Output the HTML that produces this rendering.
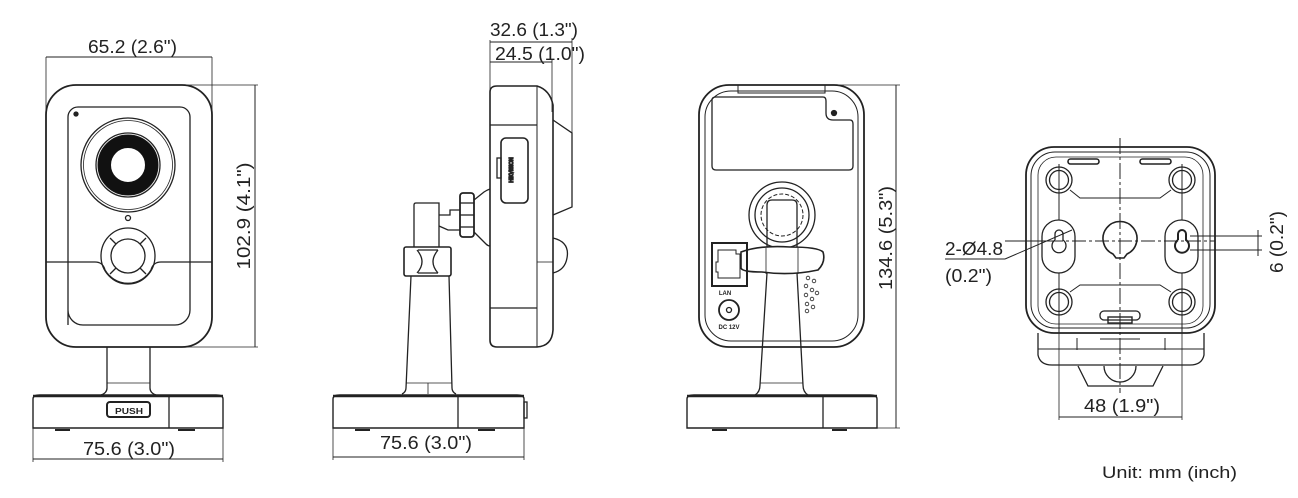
<!DOCTYPE html>
<html><head><meta charset="utf-8"><style>
html,body{margin:0;padding:0;background:#fff;}
svg{display:block}
text{font-family:"Liberation Sans Narrow","Liberation Sans",sans-serif;fill:#222;font-size:18px}
</style></head><body>
<svg width="1298" height="498" viewBox="0 0 1298 498" xmlns="http://www.w3.org/2000/svg">
<g fill="none" stroke="#222" stroke-width="1.3">
<!-- ===== FRONT VIEW ===== -->
<line x1="46" y1="57" x2="212" y2="57" stroke-width="1"/>
<line x1="46" y1="57" x2="46" y2="110" stroke-width="0.8"/>
<line x1="212" y1="57" x2="212" y2="110" stroke-width="0.8"/>
<rect x="46" y="85" width="166" height="262" rx="30" stroke-width="1.8"/>
<path d="M68 325 V117 a10 10 0 0 1 10 -10 H180 a10 10 0 0 1 10 10 V310 a15 15 0 0 1 -15 15 H83 a15 15 0 0 1 -15 -15z"/>
<circle cx="76" cy="114" r="2" fill="#222"/>
<circle cx="128" cy="165" r="47"/>
<circle cx="128" cy="165" r="44.5" stroke-width="0.8"/>
<circle cx="128" cy="165" r="32"/>
<circle cx="128" cy="165" r="30" stroke-width="1"/>
<circle cx="128" cy="165" r="23.5" stroke-width="13" stroke="#111"/>
<circle cx="128" cy="218" r="2.5"/>
<path d="M46 262 H95 Q103 262 105 270 A27 28 0 0 0 151 270 Q153 262 161 262 H212"/>
<ellipse cx="128" cy="256" rx="27" ry="28"/>
<circle cx="128" cy="256" r="17"/>
<line x1="110" y1="238" x2="116" y2="244"/><line x1="146" y1="238" x2="140" y2="244"/>
<line x1="110" y1="274" x2="116" y2="268"/><line x1="146" y1="274" x2="140" y2="268"/>
<line x1="183" y1="85" x2="258" y2="85" stroke-width="0.8"/>
<line x1="170" y1="347" x2="258" y2="347" stroke-width="0.8"/>
<line x1="255" y1="85" x2="255" y2="347" stroke-width="1"/>
<path d="M107 347 V388 Q107 393 101 395 M150 347 V388 Q150 393 156 395"/>
<line x1="107" y1="383" x2="150" y2="383" stroke-width="0.8"/>
<path d="M33 428 V399 Q33 395 40 395 H216 Q223 395 223 399 V428 Z" stroke-width="1.4"/>
<line x1="33" y1="396" x2="223" y2="396" stroke-width="2.5"/>
<line x1="169" y1="396" x2="169" y2="428"/>
<rect x="107" y="402" width="43" height="15" rx="3" stroke-width="2"/>
<line x1="55" y1="430" x2="70" y2="430" stroke-width="2"/><line x1="178" y1="430" x2="195" y2="430" stroke-width="2"/>
<line x1="33" y1="428" x2="33" y2="462" stroke-width="0.8"/><line x1="223" y1="428" x2="223" y2="462" stroke-width="0.8"/>
<line x1="33" y1="459" x2="223" y2="459" stroke-width="1"/>

<!-- ===== SIDE VIEW ===== -->
<line x1="490" y1="42" x2="572" y2="42" stroke-width="1"/>
<line x1="490" y1="62" x2="552" y2="62" stroke-width="1"/>
<line x1="490" y1="40" x2="490" y2="90" stroke-width="0.8"/>
<line x1="552" y1="60" x2="552" y2="112" stroke-width="0.8"/>
<line x1="572" y1="38" x2="572" y2="205" stroke-width="0.8"/>
<path d="M490 92 Q490 86 497 86 H537 Q550 90 553 105 V330 Q552 346 537 347 H497 Q490 347 490 340 Z" stroke-width="1.6"/>
<line x1="537" y1="86" x2="537" y2="347" stroke-width="1"/>
<line x1="490" y1="125" x2="537" y2="125"/>
<line x1="490" y1="308" x2="537" y2="308"/>
<path d="M553 120 L572 133 V207 L553 215"/>
<rect x="501" y="138" width="27" height="65" rx="5" stroke-width="1.6"/>
<rect x="497" y="158" width="4" height="20"/>
<text x="513" y="170" font-size="5" transform="rotate(-90 513 170)" text-anchor="middle" style="font-size:5px">HIKVISION</text>
<path d="M553 238 Q570 242 567 258 Q565 270 553 273" />
<line x1="553" y1="262" x2="537" y2="262" stroke-width="0.8"/>
<path d="M474 200 L484 192 Q487 190 490 189 M474 232 L486 244 Q488 246 490 246"/>
<rect x="460" y="193" width="14" height="44" rx="3" stroke-width="1.8"/>
<line x1="460" y1="203" x2="474" y2="203"/><line x1="460" y1="215" x2="474" y2="215"/><line x1="460" y1="227" x2="474" y2="227"/>
<path d="M439 215 H450 V210 H460 M439 226 L448 230 H460"/>
<path d="M414 247 V205 Q414 203 416 203 H439 V247"/>
<rect x="404" y="247" width="47" height="29" rx="2" stroke-width="1.6"/>
<path d="M417 250 Q427 262 417 273 M438 250 Q428 262 438 273 M418 250 H438 M418 273 H438"/>
<path d="M411 276 L406 388 Q406 392 402 394 M449 276 L452 388 Q452 392 456 394"/>
<line x1="406" y1="383" x2="452" y2="383" stroke-width="0.8"/>
<line x1="428" y1="383" x2="428" y2="394" stroke-width="0.8"/>
<path d="M333 428 V399 Q333 395 340 395 H517 Q524 395 524 399 V428 Z" stroke-width="1.4"/>
<line x1="333" y1="396" x2="524" y2="396" stroke-width="2.5"/>
<line x1="458" y1="396" x2="458" y2="428"/>
<rect x="524" y="402" width="3" height="16"/>
<line x1="355" y1="430" x2="370" y2="430" stroke-width="2"/><line x1="478" y1="430" x2="495" y2="430" stroke-width="2"/>
<line x1="333" y1="428" x2="333" y2="460" stroke-width="0.8"/><line x1="524" y1="428" x2="524" y2="460" stroke-width="0.8"/>
<line x1="333" y1="457" x2="524" y2="457" stroke-width="1"/>

<!-- ===== BACK VIEW ===== -->
<rect x="699" y="85" width="165" height="262" rx="30" stroke-width="1.8"/>
<rect x="705" y="91" width="153" height="250" rx="26" stroke-width="1"/>
<rect x="738" y="85" width="87" height="8" stroke-width="1"/>
<path d="M712 100 Q712 97 716 97 H823 Q826 97 826 101 V113 Q826 120 833 120 H850 Q853 120 853 124 V166 Q853 170 849 170 H716 Q712 170 712 166 Z"/>
<circle cx="834" cy="113" r="2.5" fill="#222"/>
<circle cx="782" cy="215" r="33"/>
<circle cx="782" cy="215" r="27"/>
<circle cx="782" cy="215" r="21" stroke-dasharray="4 2" stroke-width="1"/>
<path d="M767 205 Q767 200 772 200 H792 Q797 200 797 205 V247 M767 247 V205"/>
<path d="M767 273 L760 385 Q760 392 755 395 M797 273 L803 385 Q803 392 808 395"/>
<line x1="760" y1="383" x2="803" y2="383" stroke-width="0.8"/>
<path d="M741 252 Q760 245 790 247 Q818 247 823 252 Q826 262 818 270 Q790 276 762 272 Q742 272 741 268 Z" fill="#fff" stroke-width="1.6"/>
<line x1="766" y1="248" x2="766" y2="274" stroke-width="0.8"/><line x1="798" y1="248" x2="798" y2="274" stroke-width="0.8"/>
<rect x="712" y="243" width="35" height="43" stroke-width="2"/>
<path d="M718 250 H736 V254 H740 V278 H718 V272 H716 V262 H718 Z" stroke-width="1"/>
<circle cx="729" cy="310" r="10" stroke-width="1.8"/>
<circle cx="729" cy="310" r="2.5"/>
<g stroke-width="0.8">
<circle cx="808" cy="278" r="1.8"/><circle cx="814" cy="281" r="1.8"/><circle cx="806" cy="286" r="1.8"/><circle cx="812" cy="290" r="1.8"/><circle cx="817" cy="293" r="1.8"/><circle cx="806" cy="295" r="1.8"/><circle cx="812" cy="299" r="1.8"/><circle cx="807" cy="304" r="1.8"/><circle cx="813" cy="307" r="1.8"/><circle cx="807" cy="311" r="1.8"/>
</g>
<path d="M687 428 V399 Q687 395 694 395 H870 Q877 395 877 399 V428 Z" stroke-width="1.4"/>
<line x1="687" y1="396" x2="877" y2="396" stroke-width="2.5"/>
<line x1="823" y1="396" x2="823" y2="428"/>
<line x1="712" y1="430" x2="727" y2="430" stroke-width="2"/><line x1="832" y1="430" x2="847" y2="430" stroke-width="2"/>
<line x1="830" y1="85" x2="900" y2="85" stroke-width="0.8"/>
<line x1="877" y1="428" x2="900" y2="428" stroke-width="0.8"/>
<line x1="896" y1="85" x2="896" y2="428" stroke-width="1"/>

<!-- ===== BOTTOM VIEW ===== -->
<rect x="1026" y="147" width="189" height="186" rx="28" stroke-width="1.8"/>
<rect x="1031" y="152" width="179" height="176" rx="24" stroke-width="1"/>
<rect x="1038" y="157" width="165" height="167" rx="18" stroke-width="0.8"/>
<rect x="1068" y="159" width="31" height="5" rx="2.5" stroke-width="1.6"/>
<rect x="1140" y="159" width="31" height="5" rx="2.5" stroke-width="1.6"/>
<g stroke-width="1">
<path d="M1070 190 L1080 198 H1160 L1171 190"/>
<path d="M1070 292 L1080 285 H1160 L1171 292"/>
<line x1="1059" y1="164" x2="1059" y2="333"/><line x1="1182" y1="164" x2="1182" y2="333"/>
</g>
<g>
<circle cx="1059" cy="180" r="13"/><circle cx="1059" cy="180" r="9.5"/>
<circle cx="1182" cy="180" r="13"/><circle cx="1182" cy="180" r="9.5"/>
<circle cx="1059" cy="302" r="13"/><circle cx="1059" cy="302" r="9.5"/>
<circle cx="1182" cy="302" r="13"/><circle cx="1182" cy="302" r="9.5"/>
<rect x="1042" y="220" width="33" height="53" rx="16.5" fill="#fff"/>
<rect x="1165" y="220" width="33" height="53" rx="16.5" fill="#fff"/>
<path d="M1055 240 V234 a4 4 0 0 1 8 0 V240 a7 7 0 1 1 -8 0"/>
<path d="M1178 240 V234 a4 4 0 0 1 8 0 V240 a7 7 0 1 1 -8 0" stroke-width="2"/>
<path d="M1113 254 A17 17 0 1 1 1127 254 L1124 258 H1116 Z" fill="#fff" stroke-width="1.6"/>
</g>
<line x1="1026" y1="241" x2="1215" y2="241" stroke-width="1" stroke-dasharray="14 3 3 3"/>
<line x1="1120" y1="138" x2="1120" y2="393" stroke-width="1" stroke-dasharray="16 3 3 3"/>
<rect x="1100" y="311" width="40" height="9" rx="4"/>
<rect x="1108" y="317" width="24" height="6" stroke-width="1.4"/>
<path d="M1038 333 V355 Q1040 365 1052 365 H1190 Q1202 365 1204 355 V333"/>
<line x1="1038" y1="349" x2="1204" y2="349" stroke-width="1"/>
<path d="M1077 338 V350 M1165 338 V350 M1100 339 H1140" stroke-width="1"/>
<path d="M1078 366 L1088 386 H1153 L1163 366"/>
<path d="M1104 366 A16 16 0 0 0 1136 366"/>
<line x1="1059" y1="333" x2="1059" y2="420" stroke-width="0.8"/>
<line x1="1182" y1="333" x2="1182" y2="420" stroke-width="0.8"/>
<line x1="1059" y1="417" x2="1182" y2="417" stroke-width="1"/>
<line x1="945" y1="259" x2="1005" y2="259" stroke-width="1"/>
<line x1="1005" y1="259" x2="1072" y2="230" stroke-width="1"/>
<line x1="1005" y1="241" x2="1060" y2="241" stroke-width="1"/>
<line x1="1190" y1="236" x2="1262" y2="236" stroke-width="1"/>
<line x1="1190" y1="250" x2="1262" y2="250" stroke-width="1"/>
<line x1="1258" y1="230" x2="1258" y2="256" stroke-width="1"/>
</g>

<!-- TEXT -->
<text x="88" y="53" textLength="89" lengthAdjust="spacingAndGlyphs">65.2 (2.6")</text>
<text x="250" y="216" text-anchor="middle" transform="rotate(-90 250 216)" textLength="107" lengthAdjust="spacingAndGlyphs">102.9  (4.1")</text>
<text x="83" y="455" textLength="92" lengthAdjust="spacingAndGlyphs">75.6 (3.0")</text>
<text x="115" y="414" style="font-size:8px;font-weight:bold" textLength="28" lengthAdjust="spacingAndGlyphs">PUSH</text>
<text x="490" y="36" textLength="88" lengthAdjust="spacingAndGlyphs">32.6 (1.3")</text>
<text x="495" y="60" textLength="90" lengthAdjust="spacingAndGlyphs">24.5 (1.0")</text>
<text x="380" y="449" textLength="92" lengthAdjust="spacingAndGlyphs">75.6 (3.0")</text>
<text x="725" y="295" text-anchor="middle" style="font-size:6px;font-weight:bold">LAN</text>
<text x="729" y="329" text-anchor="middle" style="font-size:6px;font-weight:bold">DC 12V</text>
<text x="892" y="238" text-anchor="middle" transform="rotate(-90 892 238)" textLength="104" lengthAdjust="spacingAndGlyphs">134.6 (5.3")</text>
<text x="945" y="255" textLength="58" lengthAdjust="spacingAndGlyphs">2-Ø4.8</text>
<text x="945" y="282" textLength="47" lengthAdjust="spacingAndGlyphs">(0.2")</text>
<text x="1283" y="242" text-anchor="middle" transform="rotate(-90 1283 242)" textLength="62" lengthAdjust="spacingAndGlyphs">6 (0.2")</text>
<text x="1084" y="412" textLength="76" lengthAdjust="spacingAndGlyphs">48 (1.9")</text>
<text x="1102" y="478" style="font-size:17px" textLength="135" lengthAdjust="spacingAndGlyphs">Unit: mm (inch)</text>
</svg>
</body></html>
